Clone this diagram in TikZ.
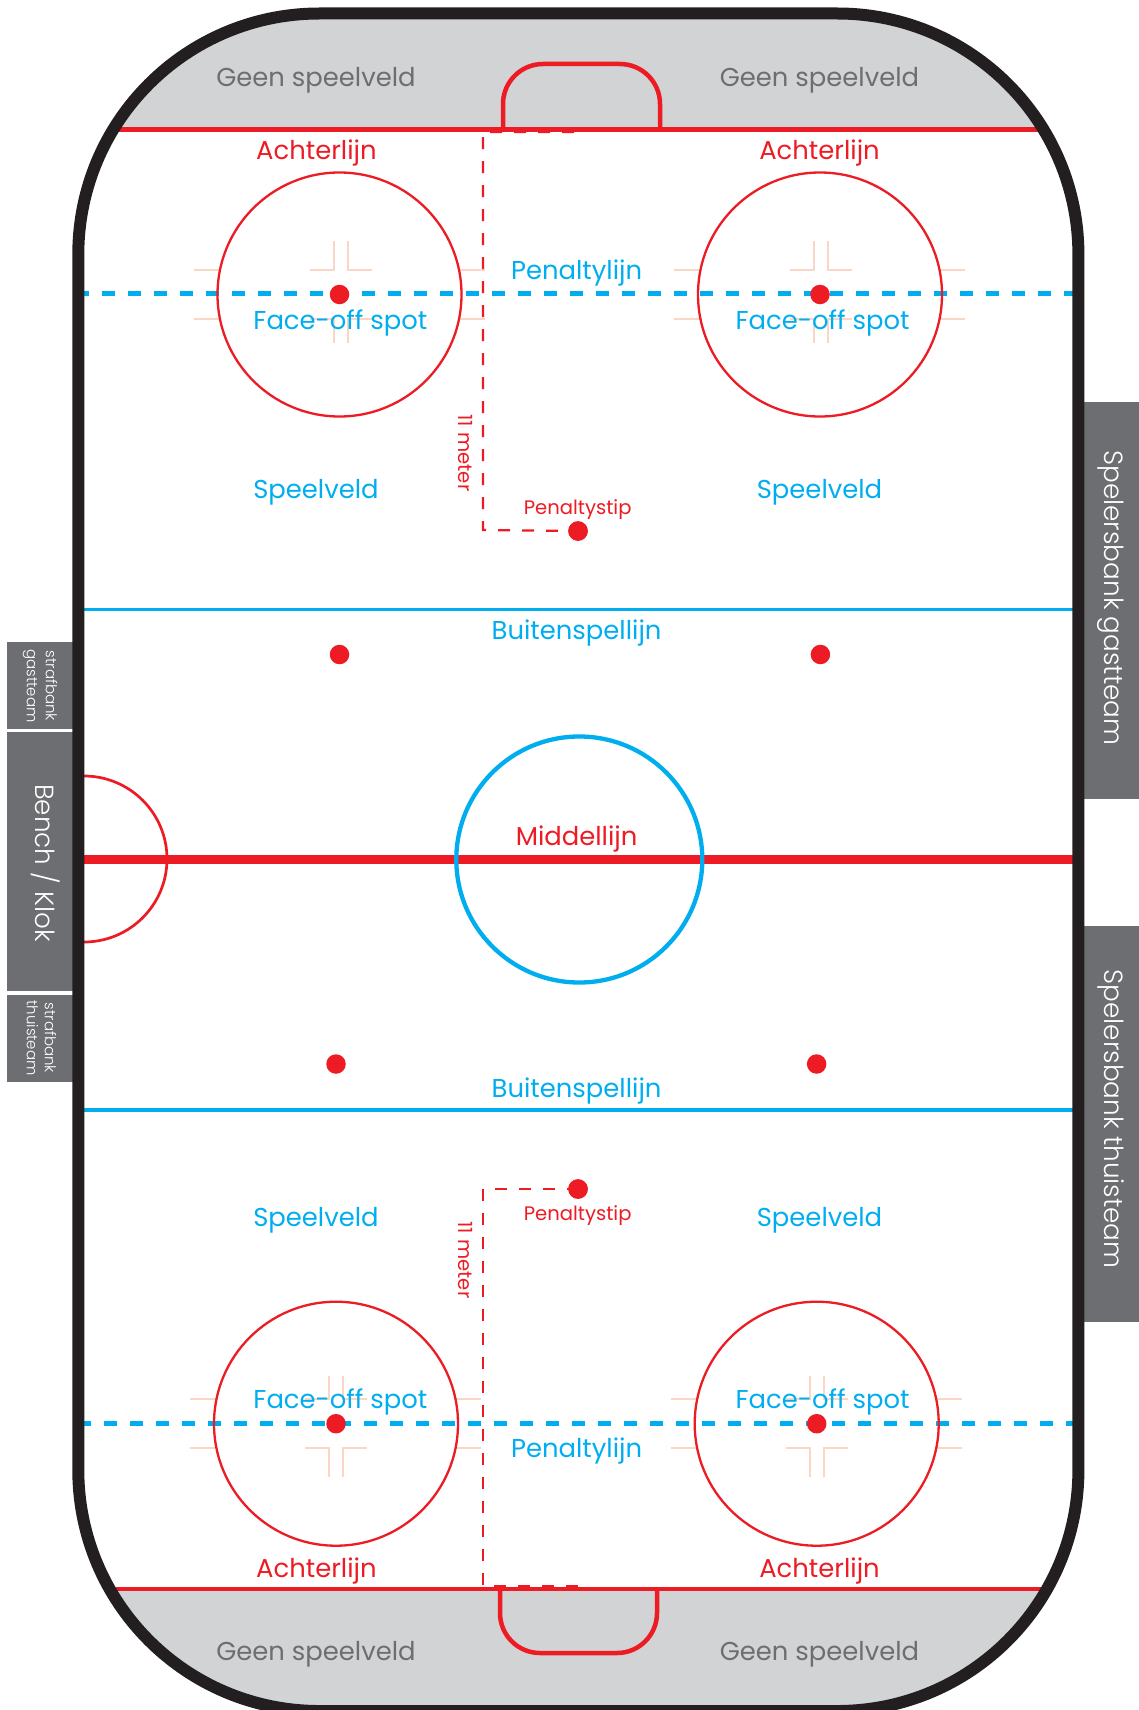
\documentclass[tikz,border=0pt]{standalone}
\usepackage{fontspec}
\setmainfont{Poppins}
\newfontfamily\lightfont{Poppins Light}
\definecolor{rinkred}{HTML}{ED1C24}
\definecolor{rinkblue}{HTML}{00AEEF}
\definecolor{rinkgray}{HTML}{D1D3D4}
\definecolor{rinkdark}{HTML}{231F20}
\definecolor{boxgray}{HTML}{6D6E71}
\definecolor{hashpeach}{HTML}{FBD6C6}
\tikzset{
  hashline/.style={draw=hashpeach,line width=2pt},
  backline/.style={draw=rinkred,line width=4.5pt},
  creaseline/.style={draw=rinkred,line width=4.5pt,rounded corners=40pt},
  penaltyline/.style={draw=rinkblue,line width=4.7pt,dash pattern=on 13pt off 13pt},
  offsideline/.style={draw=rinkblue,line width=3.5pt},
  measureline/.style={draw=rinkred,line width=2.2pt,dash pattern=on 12pt off 12pt},
  faceoffring/.style={draw=rinkred,line width=2.3pt},
  spot/.style={circle,fill=rinkred,inner sep=0pt,minimum size=19.5pt},
  sidebox/.style={fill=boxgray},
  lbl/.style={inner sep=0pt,font=\fontsize{25.85}{30}\selectfont},
  redlbl/.style={lbl,text=rinkred},
  bluelbl/.style={lbl,text=rinkblue},
  graylbl/.style={lbl,text=boxgray},
  smallred/.style={inner sep=0pt,text=rinkred,font=\fontsize{19.6}{22}\selectfont},
  sidelbl/.style={inner sep=0pt,text=white,rotate=-90,align=center},
}
\newcommand{\hashes}[3]{%
  \begin{scope}[shift={(#1,#2)}]
    \draw[hashline] (-146,-24.5) -- (-120,-24.5);
    \draw[hashline] (-146,24.5) -- (-120,24.5);
    \draw[hashline] (120,-24.5) -- (145,-24.5);
    \draw[hashline] (120,24.5) -- (145,24.5);
    \ifnum#3=1
      \draw[hashline] (-6,-53.5) -- (-6,-24.5) -- (-30,-24.5);
      \draw[hashline] (8,-53.5) -- (8,-24.5) -- (32,-24.5);
      \draw[hashline] (-6,48.5) -- (-6,24.5) -- (-30,24.5);
      \draw[hashline] (8,48.5) -- (8,24.5) -- (32,24.5);
    \else
      \draw[hashline] (-7,-48) -- (-7,-24.5) -- (-31,-24.5);
      \draw[hashline] (7,-48) -- (7,-24.5) -- (31,-24.5);
      \draw[hashline] (-7,53.5) -- (-7,24.5) -- (-31,24.5);
      \draw[hashline] (7,53.5) -- (7,24.5) -- (31,24.5);
    \fi
  \end{scope}
}
\begin{document}
\begin{tikzpicture}[x=1pt,y=-1pt]
\clip (0,0) rectangle (1139,1710);
% side boxes
\fill[sidebox] (7,642) rectangle (72.5,729);
\fill[sidebox] (7,732) rectangle (72.5,990.7);
\fill[sidebox] (7,995) rectangle (72.5,1082);
\fill[sidebox] (1084,402) rectangle (1139,798.5);
\fill[sidebox] (1084,926) rectangle (1139,1322);
% ice and non-play zones
\begin{scope}
  \clip[rounded corners=241pt] (78.3,13.5) rectangle (1078.4,1711);
  \fill[white] (78,13) rectangle (1079,1711);
  \fill[rinkgray] (78,13) rectangle (1079,129.6);
  \fill[rinkgray] (78,1589) rectangle (1079,1711);
\end{scope}
% hash marks
\hashes{339.5}{294.5}{1}
\hashes{820}{294.5}{1}
\hashes{336}{1423.7}{2}
\hashes{816.7}{1423.7}{2}
% creases
\draw[creaseline] (503,129.6) -- (503,64) -- (660,64) -- (660,129.6);
\draw[creaseline] (500,1589) -- (500,1653) -- (657,1653) -- (657,1589);
% spots for the dashed measures
\node[spot] (pstipa) at (578,531) {};
\node[spot] (pstipb) at (578,1189) {};
\coordinate (ma) at (574,132);
\coordinate (mb) at (483,132);
\coordinate (mc) at (483,530);
\coordinate (md) at (578,1586);
\coordinate (me) at (483,1586);
\coordinate (mf) at (483,1189);
\draw[measureline] (ma) -- (mb) -- (mc) -- (pstipa.center);
\draw[measureline] (md) -- (me) -- (mf) -- (pstipb.center);
\node[spot] at (pstipa) {};
\node[spot] at (pstipb) {};
% lines
\draw[penaltyline] (76,293.6) -- (1074,293.6);
\draw[penaltyline] (78,1423.2) -- (1074,1423.2);
\draw[offsideline] (80,609.4) -- (1074,609.4);
\draw[offsideline] (80,1110) -- (1074,1110);
\draw[draw=rinkred,line width=8.7pt] (80,859.4) -- (1074,859.4);
\draw[backline] (116,129.6) -- (1043,129.6);
\draw[backline] (116,1589) -- (1043,1589);
\draw[draw=rinkblue,line width=4.3pt] (579.3,859.5) circle[radius=123pt];
\draw[draw=rinkred,line width=2.7pt] (84,776) arc[start angle=90,end angle=-90,radius=83pt];
% face-off circles
\node[circle,faceoffring,minimum size=244pt,inner sep=0pt] (ca) at (339.5,294.5) {};
\node[circle,faceoffring,minimum size=244pt,inner sep=0pt] (cb) at (820,294.5) {};
\node[circle,faceoffring,minimum size=244pt,inner sep=0pt] (cc) at (336,1423.7) {};
\node[circle,faceoffring,minimum size=244pt,inner sep=0pt] (cd) at (816.7,1423.7) {};
\node[spot] at (ca) {};
\node[spot] at (cb) {};
\node[spot] at (cc) {};
\node[spot] at (cd) {};
\node[spot] (na) at (339.5,654.5) {};
\node[spot] (nb) at (820.4,654.5) {};
\node[spot] (nc) at (336,1064) {};
\node[spot] (nd) at (816.6,1064) {};
% boards
\draw[rinkdark,line width=12pt,rounded corners=241pt] (78.3,13.5) rectangle (1078.4,1711);
% labels
\node[graylbl] (g1) at (316,80) {Geen speelveld};
\node[graylbl] (g2) at (819.5,80) {Geen speelveld};
\node[graylbl] (g3) at (316,1654) {Geen speelveld};
\node[graylbl] (g4) at (819.5,1654) {Geen speelveld};
\node[redlbl] (a1) at (316.4,153) {Achterlijn};
\node[redlbl] (a2) at (819.5,153) {Achterlijn};
\node[redlbl] (a3) at (316.4,1571) {Achterlijn};
\node[redlbl] (a4) at (819.5,1571) {Achterlijn};
\node[bluelbl] (p1) at (576.6,273) {Penaltylijn};
\node[bluelbl] (p2) at (576.6,1451) {Penaltylijn};
\node[bluelbl] (f1) at (340.4,323) {Face-off spot};
\node[bluelbl] (f2) at (822.6,323) {Face-off spot};
\node[bluelbl] (f3) at (340.4,1402) {Face-off spot};
\node[bluelbl] (f4) at (822.6,1402) {Face-off spot};
\node[bluelbl] (s1) at (316,492.7) {Speelveld};
\node[bluelbl] (s2) at (819.5,492.7) {Speelveld};
\node[bluelbl] (s3) at (316,1220) {Speelveld};
\node[bluelbl] (s4) at (819.5,1220) {Speelveld};
\node[bluelbl] (b1) at (576.6,633) {Buitenspellijn};
\node[bluelbl] (b2) at (576.6,1091) {Buitenspellijn};
\node[redlbl] (mid) at (576.6,839) {Middellijn};
\node[smallred] (ps1) at (577.7,509.6) {Penaltystip};
\node[smallred] (ps2) at (577.7,1215.3) {Penaltystip};
\node[smallred,rotate=-90] (m1) at (465.8,453) {11 meter};
\node[smallred,rotate=-90] (m2) at (465.8,1260) {11 meter};
\node[sidelbl,font=\lightfont\fontsize{26.3}{30}\selectfont] (sb1) at (1111,598) {Spelersbank gastteam};
\node[sidelbl,font=\lightfont\fontsize{26.3}{30}\selectfont] (sb2) at (1111,1119) {Spelersbank thuisteam};
\node[sidelbl,font=\lightfont\fontsize{26.2}{32}\selectfont] (bk) at (46,863) {Bench / Klok};
\node[sidelbl,font=\lightfont\fontsize{15}{19}\selectfont] (st1) at (40,686) {strafbank\\gastteam};
\node[sidelbl,font=\lightfont\fontsize{15}{18}\selectfont] (st2) at (41.5,1038) {strafbank\\thuisteam};
\end{tikzpicture}
\end{document}
